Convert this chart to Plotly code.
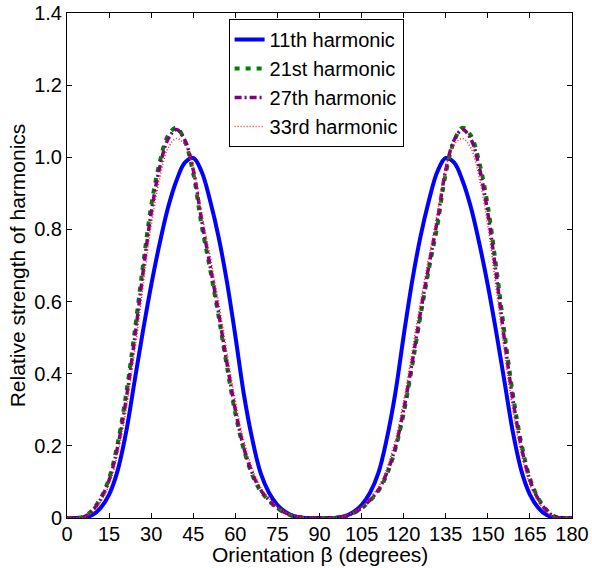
import plotly.graph_objects as go

beta = [0, 3, 6, 9, 12, 15, 18, 21, 24, 27, 30, 33, 36, 39, 42, 45, 48, 51, 54, 57, 60,
        63, 66, 69, 72, 75, 78, 81, 84, 87, 90, 93, 96, 99, 102, 105, 108, 111, 114, 117, 120,
        123, 126, 129, 132, 135, 138, 141, 144, 147, 150, 153, 156, 159, 162, 165, 168, 171, 174, 177, 180]

h11 = [0, 0, 0.001, 0.008, 0.028, 0.065, 0.13, 0.235, 0.375, 0.515, 0.645, 0.76, 0.86, 0.935, 0.985, 0.998,
       0.96, 0.88, 0.78, 0.655, 0.505, 0.345, 0.22, 0.125, 0.07, 0.036, 0.016, 0.005, 0.001, 0, 0,
       0, 0.001, 0.005, 0.016, 0.036, 0.07, 0.125, 0.22, 0.345, 0.505, 0.655, 0.78, 0.88, 0.96, 0.998,
       0.985, 0.935, 0.86, 0.76, 0.645, 0.515, 0.375, 0.235, 0.13, 0.065, 0.028, 0.008, 0.001, 0, 0]

h21 = [0, 0, 0.004, 0.022, 0.055, 0.11, 0.205, 0.34, 0.51, 0.695, 0.865, 0.985, 1.06, 1.082, 1.045, 0.955,
       0.81, 0.69, 0.56, 0.42, 0.29, 0.19, 0.12, 0.075, 0.048, 0.027, 0.013, 0.004, 0, 0, 0,
       0, 0, 0.004, 0.013, 0.027, 0.048, 0.075, 0.12, 0.19, 0.29, 0.42, 0.56, 0.69, 0.81, 0.955,
       1.045, 1.082, 1.06, 0.985, 0.865, 0.695, 0.51, 0.34, 0.205, 0.11, 0.055, 0.022, 0.004, 0, 0]

h27 = [0, 0, 0.003, 0.02, 0.052, 0.105, 0.195, 0.325, 0.49, 0.675, 0.845, 0.97, 1.05, 1.077, 1.048, 0.965,
       0.825, 0.7, 0.57, 0.43, 0.3, 0.195, 0.125, 0.078, 0.05, 0.028, 0.014, 0.005, 0.001, 0, 0,
       0, 0.001, 0.005, 0.014, 0.028, 0.05, 0.078, 0.125, 0.195, 0.3, 0.43, 0.57, 0.7, 0.825, 0.965,
       1.048, 1.077, 1.05, 0.97, 0.845, 0.675, 0.49, 0.325, 0.195, 0.105, 0.052, 0.02, 0.003, 0, 0]

h33 = [0, 0, 0.002, 0.016, 0.045, 0.092, 0.175, 0.295, 0.455, 0.635, 0.81, 0.94, 1.025, 1.052, 1.035, 0.97,
       0.845, 0.725, 0.6, 0.46, 0.325, 0.215, 0.138, 0.086, 0.055, 0.031, 0.016, 0.006, 0.001, 0, 0,
       0, 0.001, 0.006, 0.016, 0.031, 0.055, 0.086, 0.138, 0.215, 0.325, 0.46, 0.6, 0.725, 0.845, 0.97,
       1.035, 1.052, 1.025, 0.94, 0.81, 0.635, 0.455, 0.295, 0.175, 0.092, 0.045, 0.016, 0.002, 0, 0]

names = ["11th harmonic", "21st harmonic", "27th harmonic", "33rd harmonic"]

x_ticks = [0, 15, 30, 45, 60, 75, 90, 105, 120, 135, 150, 165, 180]
y_ticks = [0, 0.2, 0.4, 0.6, 0.8, 1.0, 1.2, 1.4]
y_tick_text = ["0", "0.2", "0.4", "0.6", "0.8", "1.0", "1.2", "1.4"]
x_title = "Orientation β (degrees)"
y_title = "Relative strength of harmonics"

series = [h11, h21, h27, h33]
styles = [
    dict(color="#0000ff", width=4, dash="solid"),
    dict(color="#008000", width=4, dash="5px,6px"),
    dict(color="#800080", width=3.5, dash="7px,3px,2px,3px"),
    dict(color="#ff2020", width=1.5, dash="1px,2px"),
]

fig = go.Figure()
for name, vals, st in zip(names, series, styles):
    fig.add_trace(go.Scatter(x=beta, y=vals, mode="lines", name=name,
                             line=dict(shape="spline", smoothing=1.0, **st)))

font = "Liberation Sans, Arial, Helvetica, sans-serif"
axis_common = dict(showline=True, linecolor="black", linewidth=1, mirror="ticks",
                   ticks="inside", ticklen=5, tickcolor="black", tickwidth=1,
                   showgrid=False, zeroline=False, automargin=False,
                   ticklabeloverflow="allow",
                   tickfont=dict(family=font, size=20, color="black"))

fig.update_layout(
    width=592, height=568,
    margin=dict(l=67, r=20, t=13, b=50),
    paper_bgcolor="white", plot_bgcolor="white",
    font=dict(family=font, size=20, color="black"),
    xaxis=dict(range=[0, 180], tickvals=x_ticks, ticklabelstandoff=-2, **axis_common),
    yaxis=dict(range=[0, 1.4], tickvals=y_ticks, ticktext=y_tick_text,
               title=dict(text=y_title, font=dict(size=21), standoff=2),
               **axis_common),
    legend=dict(x=0.32, y=0.988, xanchor="left", yanchor="top",
                bgcolor="white", bordercolor="black", borderwidth=1,
                font=dict(size=20), tracegroupgap=0, itemwidth=30),
    showlegend=True,
    annotations=[dict(text=x_title, xref="paper", yref="paper", x=0.5, y=0,
                      xanchor="center", yanchor="middle", yshift=-36,
                      showarrow=False, font=dict(size=21))],
)

fig.write_html("out.html", config={"displayModeBar": False},
               post_script="document.body.style.margin='0';document.body.style.overflow='hidden';")
